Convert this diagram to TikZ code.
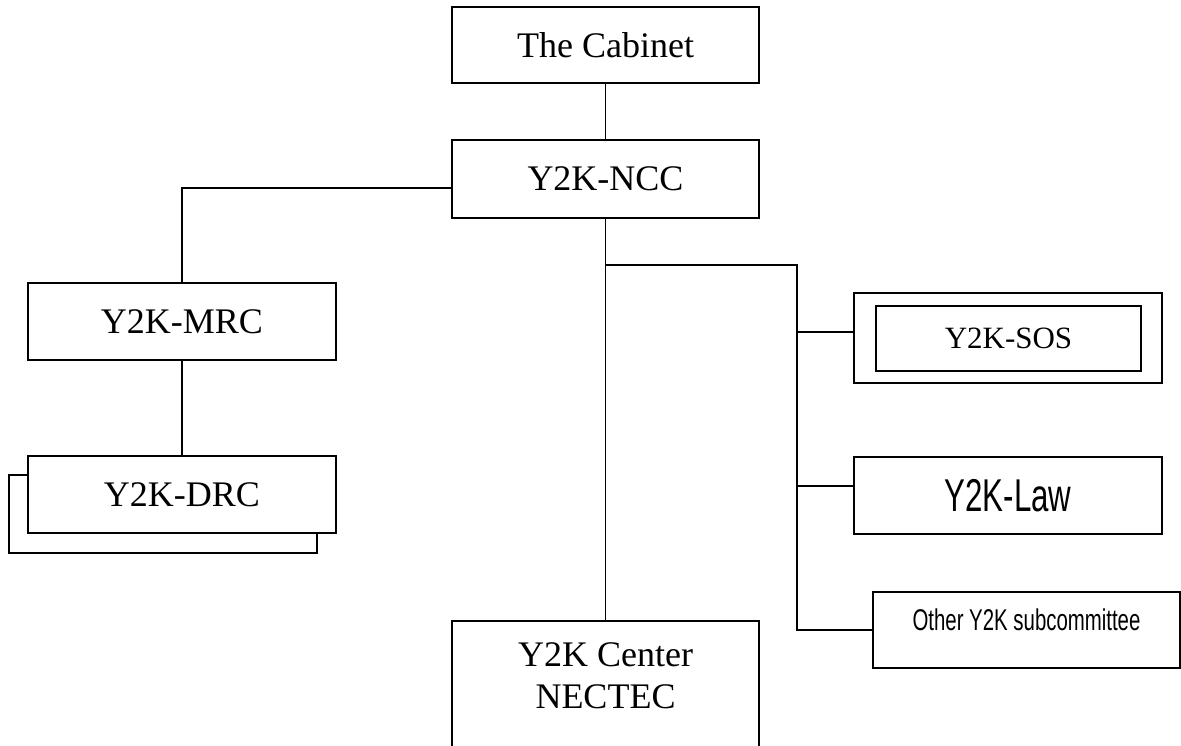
\documentclass[tikz,border=0pt]{standalone}
\usepackage{fontspec}
\setmainfont{Liberation Serif}
\newfontfamily\narrowsans[FakeStretch=0.68]{Liberation Sans}
\begin{document}
\begin{tikzpicture}[x=1pt,y=-1pt,line width=1.4pt,
  box/.style={draw=black, rectangle, inner sep=0pt, fill=white},
  stdbox/.style={box, minimum width=307pt, minimum height=77pt},
  big/.style={font=\fontsize{36}{42}\selectfont},
  mid/.style={font=\fontsize{31}{36}\selectfont},
  lawfont/.style={font=\narrowsans\fontsize{46}{50}\selectfont},
  smallsans/.style={font=\narrowsans\fontsize{30}{34}\selectfont},
  link/.style={draw=black, line width=1.4pt}]
\useasboundingbox (0,0) rectangle (1181,745);
% main column
\node[stdbox, big, minimum height=76pt] (cab) at (605.5,45) {The Cabinet};
\node[stdbox, big, minimum height=78pt] (ncc) at (605.5,179) {Y2K-NCC};
\node[stdbox, minimum height=170pt,
  label={[big, align=center, yshift=30pt]center:Y2K Center\\NECTEC}] (nectec) at (605.5,706) {};
% left column
\node[stdbox, big, minimum width=308pt] (mrc) at (182,321.5) {Y2K-MRC};
\node[box, minimum width=308pt, minimum height=78pt] (drcback) at (163,514) {};
\node[stdbox, big, minimum width=308pt] (drc) at (182,494.5) {Y2K-DRC};
% right column
\node[box, minimum width=308pt, minimum height=90pt] (sos) at (1008,338) {};
\node[box, mid, minimum width=265pt, minimum height=65pt] (sosin) at (1008.5,338.5) {Y2K-SOS};
\node[stdbox, lawfont, minimum width=308pt] (law) at (1008,495.5) {Y2K-Law};
\node[stdbox, minimum height=76pt,
  label={[smallsans, yshift=10pt]center:Other Y2K subcommittee}] (other) at (1026.5,630) {};
% junction coordinates
\coordinate (jl) at (452,188);
\coordinate (bj) at (605,265);
\coordinate (rb) at (797,265);
\coordinate (sosj) at (797,332);
\coordinate (lawj) at (797,486);
% connectors
\draw[link] (cab.south) -- (ncc.north);
\draw[link] (ncc.west |- jl) -| (mrc.north);
\draw[link] (mrc.south) -- (drc.north);
\draw[link] (ncc.south) -- (nectec.north);
\draw[link] (bj) -- (rb) |- (other.west);
\draw[link] (sosj) -- (sosj -| sos.west);
\draw[link] (lawj) -- (lawj -| law.west);
\end{tikzpicture}
\end{document}
